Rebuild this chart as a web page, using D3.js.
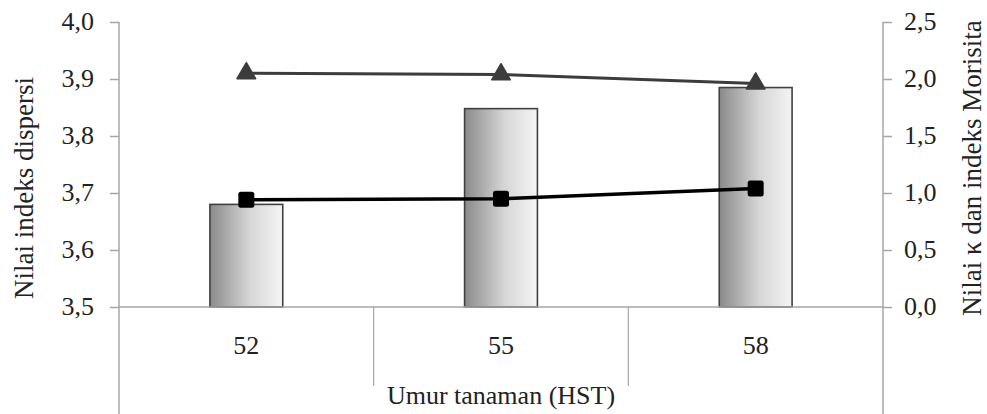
<!DOCTYPE html>
<html>
<head>
<meta charset="utf-8">
<script src="https://cdn.jsdelivr.net/npm/d3@7"></script>
</head>
<body style="margin:0; background:#fff">
<svg id="chart" width="987" height="414"></svg>
<script>
// categories: plant age (days after planting)
var ages = ["52", "55", "58"];
// bars: dispersion index (left axis)
var dispersi = [3.68, 3.848, 3.885];
// triangles and squares (right axis)
var kappa = [2.05, 2.04, 1.96];
var morisita = [0.94, 0.95, 1.04];

var leftTicks = [3.5, 3.6, 3.7, 3.8, 3.9, 4.0];
var rightTicks = [0, 0.5, 1, 1.5, 2, 2.5];

var svg = d3.select("#chart");
var pLeft = 119, pRight = 883, pTop = 22, pBottom = 307;
var ff = "Liberation Serif";
var fmt = function(v) { return d3.format(".1f")(v).replace(".", ","); };

var x = d3.scaleBand().domain(ages).range([pLeft, pRight]);
var yL = d3.scaleLinear().domain([3.5, 4.0]).range([pBottom, pTop]);
var yR = d3.scaleLinear().domain([0, 2.5]).range([pBottom, pTop]);

// gradient for bars
var grad = svg.append("defs").append("linearGradient")
  .attr("id", "barGrad").attr("x1", "0%").attr("x2", "100%");
grad.append("stop").attr("offset", "0%").attr("stop-color", "#8a8a8a");
grad.append("stop").attr("offset", "55%").attr("stop-color", "#d6d6d6");
grad.append("stop").attr("offset", "100%").attr("stop-color", "#f4f4f4");

// left axis
var axL = svg.append("g").attr("transform", "translate(" + pLeft + ",0)")
  .call(d3.axisLeft(yL).tickValues(leftTicks).tickFormat(fmt).tickSize(9).tickPadding(16));
axL.attr("font-family", ff).attr("font-size", 26);
axL.select(".domain").remove();
axL.selectAll("line").attr("stroke", "#a6a6a6").attr("stroke-width", 1.5);
axL.selectAll("text").attr("fill", "#222").attr("dy", "0.28em");

// right axis
var axR = svg.append("g").attr("transform", "translate(" + pRight + ",0)")
  .call(d3.axisRight(yR).tickValues(rightTicks).tickFormat(fmt).tickSize(9).tickPadding(12));
axR.attr("font-family", ff).attr("font-size", 26);
axR.select(".domain").remove();
axR.selectAll("line").attr("stroke", "#a6a6a6").attr("stroke-width", 1.5);
axR.selectAll("text").attr("fill", "#222").attr("dy", "0.28em");

// vertical axis lines running to the bottom
[pLeft, pRight].forEach(function(xx) {
  svg.append("line").attr("x1", xx).attr("x2", xx).attr("y1", pTop).attr("y2", 414)
    .attr("stroke", "#a6a6a6").attr("stroke-width", 1.5);
});

// category dividers
ages.slice(1).forEach(function(a) {
  svg.append("line").attr("x1", x(a)).attr("x2", x(a)).attr("y1", pBottom).attr("y2", 386)
    .attr("stroke", "#a6a6a6").attr("stroke-width", 1.2);
});

// bars
svg.selectAll("rect.bar").data(dispersi).enter().append("rect")
  .attr("class", "bar")
  .attr("x", function(d, i) { return x(ages[i]) + x.bandwidth() * 0.357; })
  .attr("width", x.bandwidth() * 0.286)
  .attr("y", function(d) { return yL(d); })
  .attr("height", function(d) { return pBottom - yL(d); })
  .attr("fill", "url(#barGrad)")
  .attr("stroke", "#404040").attr("stroke-width", 1.6);

// baseline
svg.append("line").attr("x1", pLeft).attr("x2", pRight).attr("y1", pBottom).attr("y2", pBottom)
  .attr("stroke", "#a6a6a6").attr("stroke-width", 1.5);

var cx = function(i) { return x(ages[i]) + x.bandwidth() / 2; };

// kappa line with triangles
svg.append("path").datum(kappa)
  .attr("d", d3.line().x(function(d, i) { return cx(i); }).y(function(d) { return yR(d); }))
  .attr("fill", "none").attr("stroke", "#3c3c3c").attr("stroke-width", 3);
svg.selectAll("path.tri").data(kappa).enter().append("path")
  .attr("class", "tri")
  .attr("transform", function(d, i) { return "translate(" + cx(i) + "," + yR(d) + ")"; })
  .attr("d", d3.symbol().type(d3.symbolTriangle).size(150))
  .attr("fill", "#3c3c3c").attr("stroke", "#3c3c3c").attr("stroke-width", 1.5).attr("stroke-linejoin", "round");

// Morisita line with squares
svg.append("path").datum(morisita)
  .attr("d", d3.line().x(function(d, i) { return cx(i); }).y(function(d) { return yR(d); }))
  .attr("fill", "none").attr("stroke", "#000").attr("stroke-width", 3.5);
svg.selectAll("rect.sq").data(morisita).enter().append("rect")
  .attr("class", "sq")
  .attr("x", function(d, i) { return cx(i) - 8; })
  .attr("y", function(d) { return yR(d) - 8; })
  .attr("width", 16).attr("height", 16).attr("rx", 2.5)
  .attr("fill", "#000");

// text helper
function label(sel, size) {
  return sel.attr("font-size", size).attr("font-family", ff).attr("fill", "#222");
}

// category labels
label(svg.selectAll("text.cat").data(ages).enter().append("text")
  .attr("class", "cat")
  .attr("x", function(d, i) { return cx(i); })
  .attr("y", 354)
  .attr("text-anchor", "middle")
  .text(function(d) { return d; }), 26);

// axis titles
label(svg.append("text").attr("x", 501).attr("y", 404).attr("text-anchor", "middle")
  .text("Umur tanaman (HST)"), 26);
label(svg.append("text").attr("transform", "translate(33,188) rotate(-90)").attr("text-anchor", "middle")
  .text("Nilai indeks dispersi"), 27);
label(svg.append("text").attr("transform", "translate(981,168) rotate(-90)").attr("text-anchor", "middle")
  .text("Nilai κ dan indeks Morisita"), 27);
</script>
</body>
</html>
